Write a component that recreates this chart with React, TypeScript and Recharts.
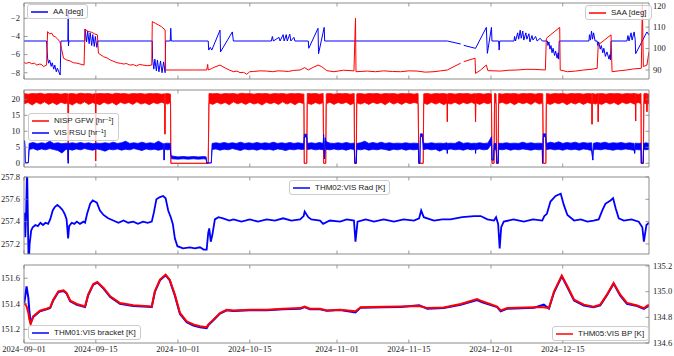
import React from 'react';
import { ComposedChart, Line, Area, XAxis, YAxis } from 'recharts';

// ---------- axes / ticks ----------
const X_DOMAIN: [number, number] = [0, 121.8]; // days since 2024-09-01
const xTickDays = [0, 14, 30, 44, 61, 75, 91, 105];
const xTickLabels = ['2024−09−01', '2024−09−15', '2024−10−01', '2024−10−15', '2024−11−01', '2024−11−15', '2024−12−01', '2024−12−15'];
const p1LeftTicks = [-8, -6, -4, -2];
const p1RightTicks = [90, 100, 110, 120];
const p2Ticks = [0, 5, 10, 15, 20];
const p3Ticks = [257.2, 257.4, 257.6, 257.8];
const p4LeftTicks = [151.2, 151.4, 151.6];
const p4RightTicks = [134.6, 134.8, 135.0, 135.2];

// ---------- panel 1: AA [deg] (left), SAA [deg] (right) ----------
const aaData: [number, number | null][] = [
  [0, -4.5], [4.4, -4.5], [4.6, -6.4], [4.8, -6.95], [5.0, -6.6], [5.3, -7.3], [5.5, -6.9], [5.8, -7.6], [6.0, -7.15], [6.3, -7.9], [6.5, -7.5], [7.05, -8.25], [7.2, -4.5],
  [8.55, -4.5], [8.62, -1.1], [8.66, -5.05], [8.75, -4.5], [11.85, -4.5], [11.9, -3.2], [12.2, -4.6], [12.4, -3.4], [12.7, -4.8], [12.9, -3.6], [13.2, -5.0], [13.4, -3.8], [13.7, -5.1], [13.9, -4.0], [14.2, -5.2], [14.4, -4.5],
  [25.0, -4.5], [25.05, -6.4], [25.3, -7.6], [25.5, -6.5], [25.8, -7.8], [26.0, -6.6], [26.3, -7.9], [26.6, -6.7], [26.9, -8.0], [27.2, -6.8], [27.5, -8.0], [27.6, -4.5], [28.5, -4.5], [28.6, -3.1], [28.7, -4.5],
  [35.9, -4.5], [36.0, -5.5], [36.3, -5.2], [36.6, -5.5], [38.2, -3.3], [38.3, -5.7], [40.6, -3.5], [40.8, -4.5],
  [48.2, -4.5], [48.4, -4.0], [48.6, -4.5], [49.7, -4.1], [49.9, -4.5], [50.5, -3.8], [50.7, -4.5], [51.1, -3.8], [51.3, -4.5], [51.8, -3.75], [52.0, -4.5], [52.6, -4.1], [52.8, -4.5],
  [55.4, -4.5], [55.5, -5.3], [57.3, -3.1], [57.4, -5.9], [58.5, -3.0], [58.6, -4.5],
  [82.5, -4.5], [85.1, -4.83], [85.4, null], [85.7, -4.98], [88.0, -5.31], [90.1, -3.0], [90.3, -5.86], [91.1, -3.0], [91.2, -4.5], [92.5, -4.5], [92.6, -5.5], [92.7, -4.5],
  [95.5, -4.5], [95.6, -4.0], [95.8, -4.5], [96.2, -3.6], [96.4, -4.3], [96.7, -3.3], [96.9, -4.2], [97.2, -3.4], [97.4, -4.4], [97.8, -3.6], [98.0, -4.3], [98.4, -3.7], [98.6, -4.6], [99.0, -3.9], [99.2, -4.4], [99.7, -4.0], [100.0, -4.5], [100.6, -4.2], [101.0, -4.5],
  [102.0, -4.5], [102.1, -5.0], [102.3, -4.6], [102.5, -5.4], [102.7, -5.0], [102.9, -5.8], [103.1, -5.3], [103.4, -6.1], [103.6, -5.6], [103.9, -6.4], [104.1, -5.8], [104.2, -6.5], [104.3, -4.5],
  [110.1, -4.5], [110.2, -3.8], [110.4, -4.4], [110.6, -3.4], [110.8, -4.3], [111.0, -3.6], [111.3, -4.5], [111.7, -4.5], [111.8, -5.0], [112.0, -4.6], [112.3, -5.4], [112.5, -5.0], [112.8, -5.8], [113.0, -5.3], [113.3, -6.2], [113.6, -5.7], [114.0, -6.5], [114.2, -6.0], [114.3, -6.6], [114.4, -4.5],
  [117.5, -4.5], [117.7, -3.9], [117.9, -4.5], [118.3, -3.6], [118.5, -4.4], [118.9, -3.5], [119.1, -4.3], [119.2, -5.9], [121.4, -3.5], [121.8, -3.85],
];

const saaData: [number, number | null][] = [
  [0, 93.4], [0.5, 93.1], [1.0, 93.6], [1.5, 92.9], [2.0, 93.2], [2.5, 92.3], [3.1, 92.8], [3.5, 92.4], [3.8, 91.6], [4.4, 92.3],
  [4.6, 107.9], [5.0, 106.8], [5.4, 107.2], [5.7, 105.9], [6.1, 105.5], [6.5, 104.6], [7.0, 103.2], [7.3, 100.1], [7.7, 95.5], [8.3, 94.7], [9.0, 94.2], [9.6, 93.4], [10.3, 93.2], [10.9, 92.8], [11.7, 92.3],
  [11.9, 109.0], [12.5, 108.0], [13.2, 107.6], [13.8, 106.8], [14.3, 106.4], [14.5, 97.8], [15.5, 96.2], [16.2, 95.6], [16.8, 94.7], [17.5, 94.0], [18.1, 93.4], [18.8, 93.1], [19.4, 92.8], [20.0, 93.0], [20.6, 92.3], [21.3, 92.5], [21.9, 91.9], [22.5, 92.6], [23.2, 92.3], [24.0, 92.0], [24.9, 92.3],
  [25.0, 112.6], [25.6, 111.8], [26.2, 111.0], [26.8, 110.2], [27.5, 108.7], [27.6, 90.0], [30, 90.0], [33, 90.0], [35.6, 90.0], [35.8, 92.6], [35.9, 90.0],
  [36.5, 90.6], [37.2, 91.4], [38.2, 92.3], [39.0, 91.2], [40.0, 90.0], [40.8, 89.2], [41.5, 89.5], [42.1, 88.8], [42.8, 88.9], [43.4, 88.0], [44.0, 89.2], [44.7, 89.3], [46.0, 89.6], [47.3, 89.5], [48.5, 89.2], [49.5, 89.6], [50.5, 89.5], [51.5, 89.3], [52.5, 89.8], [53.8, 90.0], [54.7, 91.1], [55.4, 90.0], [56.3, 91.2], [57.3, 92.3], [58.0, 91.6], [59.0, 89.7],
  [60.4, 89.2], [62.3, 89.9], [64.3, 89.6], [64.6, 114.1], [64.7, 89.2], [66.9, 89.5], [68.5, 89.2], [70.1, 89.6], [71.8, 89.3], [73.4, 89.2], [75.0, 89.6], [76.6, 89.5], [78.2, 89.0], [79.9, 89.2], [81.2, 89.6], [82.5, 90.0],
  [85.1, 93.2], [85.4, null], [85.7, 93.9], [87.9, 95.5], [88.0, 88.4], [89.0, 90.0], [90.1, 92.3], [90.4, 89.7], [92.9, 89.5], [94.5, 89.9], [96.1, 90.0], [97.8, 90.3], [99.4, 90.3], [101.6, 90.0],
  [101.8, 104.8], [104.4, 109.9], [104.5, 90.0], [105.9, 89.2], [107.5, 89.5], [109.1, 90.0], [110.5, 90.3], [111.7, 90.8], [111.9, 101.7], [114.4, 106.4], [114.6, 89.2], [116.2, 89.7], [117.5, 90.0], [118.8, 90.5], [120.3, 90.8], [120.5, 120.4], [120.7, 91.6], [121.4, 92.3], [121.8, 98.6],
];

// ---------- panel 2: NISP GFW / VIS RSU [hr^-1], bands [day, low, high] ----------
const gfwBand: [number, number, number][] = [
  [0, 18.6, 21.8], [0.8, 19.0, 21.6], [1.6, 18.2, 21.8], [2.4, 19.1, 21.7], [3.2, 18.5, 21.9], [4.0, 19.2, 21.6], [4.8, 18.4, 21.8], [5.6, 19.0, 21.7], [6.4, 18.3, 21.8], [7.2, 19.1, 21.6], [8.0, 18.6, 21.8], [8.55, 18.9, 21.7], [8.62, 1.0, 1.0], [8.7, 18.8, 21.7],
  [9.4, 18.2, 21.8], [10.2, 19.0, 21.6], [11.0, 18.5, 21.9], [11.8, 19.2, 21.7], [12.6, 18.4, 21.8], [13.4, 19.0, 21.6], [13.92, 18.6, 21.8], [13.97, 0.7, 0.7], [14.03, 18.7, 21.7],
  [14.8, 18.3, 21.8], [15.6, 19.1, 21.7], [16.4, 18.5, 21.8], [17.2, 19.0, 21.6], [18.0, 18.2, 21.9], [18.8, 19.1, 21.7], [19.6, 18.6, 21.8], [20.4, 19.0, 21.6], [21.2, 18.4, 21.8], [22.0, 19.2, 21.7], [22.8, 18.5, 21.8], [23.6, 18.9, 21.6], [24.4, 18.3, 21.8], [25.2, 19.0, 21.7], [26.0, 18.6, 21.8], [26.8, 19.1, 21.6],
  [27.42, 18.7, 21.7], [27.47, 9.1, 9.1], [27.52, 18.8, 21.7], [28.0, 18.5, 21.8], [28.55, 19.0, 21.6], [28.62, 0, 0], [35.9, 0, 0], [36.05, 18.8, 21.8],
  [36.8, 18.4, 21.7], [37.6, 19.1, 21.8], [38.4, 18.5, 21.6], [39.2, 19.0, 21.8], [40.0, 18.3, 21.7], [40.8, 19.2, 21.8], [41.6, 18.6, 21.6], [42.4, 19.0, 21.9], [43.2, 18.4, 21.7], [44.0, 19.1, 21.8], [44.8, 18.5, 21.6], [45.6, 18.9, 21.8], [46.4, 18.2, 21.7], [47.2, 19.1, 21.8], [48.0, 18.6, 21.6], [48.8, 19.0, 21.8], [49.6, 18.4, 21.7], [50.4, 19.2, 21.8], [51.2, 18.5, 21.6], [52.0, 19.0, 21.8], [52.8, 18.3, 21.7], [53.6, 19.1, 21.8], [54.4, 18.7, 21.6],
  [54.55, 18.9, 21.7], [54.62, 0, 0], [55.1, 0, 0], [55.2, 18.8, 21.8], [56.0, 18.4, 21.7], [56.8, 19.0, 21.8], [57.6, 18.5, 21.6], [58.3, 19.0, 21.8], [58.4, 0, 0], [58.8, 0, 0], [58.9, 18.6, 21.7],
  [59.6, 19.1, 21.8], [60.4, 18.4, 21.6], [61.2, 19.0, 21.8], [62.0, 18.6, 21.7], [62.8, 19.1, 21.8], [63.6, 18.3, 21.6], [64.35, 18.8, 21.8], [64.42, 0, 0], [64.75, 0, 0], [64.85, 18.9, 21.7],
  [65.6, 18.5, 21.8], [66.4, 19.0, 21.6], [67.2, 18.4, 21.8], [68.0, 19.1, 21.7], [68.8, 18.6, 21.8], [69.6, 19.0, 21.6], [70.4, 18.3, 21.8], [71.2, 19.2, 21.7], [72.0, 18.5, 21.8], [72.8, 19.0, 21.6], [73.6, 18.4, 21.8], [74.4, 19.1, 21.7], [75.2, 18.6, 21.8], [76.0, 19.0, 21.6], [76.8, 18.7, 21.8],
  [76.95, 0, 0], [77.8, 0, 0], [77.9, 18.8, 21.7], [78.6, 18.4, 21.8], [79.4, 19.1, 21.6], [80.2, 18.5, 21.8], [81.0, 19.0, 21.7], [81.8, 18.3, 21.8], [82.45, 18.9, 21.6], [82.5, 13.0, 13.0], [82.55, 18.8, 21.7],
  [83.2, 18.5, 21.8], [84.0, 19.1, 21.6], [84.8, 18.4, 21.8], [85.6, 19.0, 21.7], [86.4, 18.6, 21.8], [87.2, 19.1, 21.6], [87.95, 18.5, 21.8], [88.0, 13.0, 13.0], [88.05, 18.9, 21.7], [88.8, 18.4, 21.8], [89.6, 19.0, 21.6], [90.4, 18.6, 21.8],
  [91.1, 19.0, 21.7], [91.2, 0, 0], [91.6, 0, 0], [91.7, 18.8, 21.8], [92.0, 18.9, 21.7], [92.1, 0, 0], [92.4, 0, 0], [92.5, 18.7, 21.8],
  [93.2, 19.1, 21.6], [94.0, 18.5, 21.8], [94.8, 19.0, 21.7], [95.6, 18.3, 21.8], [96.4, 19.1, 21.6], [97.2, 18.6, 21.8], [98.0, 19.0, 21.7], [98.8, 18.4, 21.8], [99.6, 19.2, 21.6], [100.4, 18.5, 21.8], [101.1, 18.9, 21.7], [101.2, 0, 0], [101.7, 0, 0], [101.8, 18.8, 21.8],
  [102.6, 18.4, 21.6], [103.4, 19.0, 21.8], [104.2, 18.6, 21.7], [105.0, 19.1, 21.8], [105.8, 18.3, 21.6], [106.6, 19.0, 21.8], [107.4, 18.5, 21.7], [108.2, 19.1, 21.8], [109.0, 18.4, 21.6], [109.8, 19.0, 21.8],
  [110.65, 18.6, 21.7], [110.7, 12.2, 12.2], [110.75, 18.8, 21.8], [111.4, 18.5, 21.6], [111.85, 19.0, 21.8], [111.9, 13.0, 13.0], [111.95, 18.7, 21.7],
  [112.6, 18.4, 21.8], [113.4, 19.1, 21.6], [114.2, 18.5, 21.8], [115.0, 19.0, 21.7], [115.8, 18.3, 21.8], [116.6, 19.1, 21.6], [117.4, 18.6, 21.8], [118.2, 19.0, 21.7], [119.15, 18.4, 21.8], [119.2, 13.2, 13.2], [119.25, 18.8, 21.7],
  [119.8, 19.0, 21.6], [120.25, 18.5, 21.8], [120.3, 0, 0], [120.7, 0, 0], [120.8, 18.8, 21.7], [121.35, 18.6, 21.8], [121.4, 16.1, 16.1], [121.45, 18.9, 21.7], [121.8, 18.5, 21.6],
];

const rsuBand: [number, number, number][] = [
  [0, 6.5, 7.2], [0.15, 6.0, 6.8], [0.25, 0.2, 0.2], [0.85, 0.2, 0.2], [1.0, 4.3, 6.2], [1.8, 4.6, 6.5], [2.6, 4.1, 6.1], [3.4, 4.5, 6.4], [4.2, 4.2, 6.2], [5.0, 4.6, 6.9], [5.8, 4.3, 6.2], [6.6, 4.0, 6.4], [7.4, 3.2, 6.1], [8.2, 4.4, 6.3], [8.55, 4.2, 6.2], [8.62, 0, 0], [8.7, 4.4, 6.2],
  [9.4, 4.1, 6.4], [10.2, 4.5, 6.2], [11.0, 4.2, 6.5], [11.8, 4.6, 6.2], [12.6, 4.3, 6.4], [13.4, 4.1, 6.1], [14.2, 4.5, 6.3], [15.0, 4.2, 6.2], [15.8, 3.8, 6.4], [16.6, 4.4, 6.2], [17.4, 4.2, 6.6], [18.2, 4.5, 6.2], [19.0, 4.1, 6.4], [19.8, 4.4, 6.9], [20.6, 4.2, 6.2], [21.4, 4.6, 6.4], [22.2, 4.3, 6.2], [23.0, 4.0, 6.6], [23.8, 4.5, 6.2], [24.6, 4.2, 6.4], [25.4, 4.4, 6.2], [26.2, 4.1, 6.9], [27.0, 4.4, 6.2],
  [27.25, 4.3, 6.1], [27.3, 1.0, 1.0], [27.4, 4.4, 6.2], [28.0, 4.2, 6.3], [28.5, 4.4, 6.2], [28.6, 2.6, 2.6], [28.8, 1.4, 2.3], [30, 1.3, 2.0], [31, 1.4, 2.1], [32, 1.3, 2.0], [33, 1.4, 2.1], [34, 1.3, 2.0], [35, 1.4, 2.1], [35.5, 1.3, 2.0], [35.6, 0.1, 0.1], [36.5, 0.1, 0.1],
  [36.65, 4.3, 6.2], [37.4, 4.5, 6.4], [38.2, 4.1, 6.2], [39.0, 4.4, 6.5], [39.8, 4.2, 6.2], [40.6, 4.6, 6.4], [41.4, 4.3, 6.2], [42.2, 4.0, 6.6], [43.0, 4.5, 6.2], [43.8, 4.2, 6.4], [44.6, 4.4, 6.2], [45.4, 4.1, 6.5], [46.2, 4.5, 6.2], [47.0, 4.2, 6.4], [47.8, 4.4, 6.2], [48.6, 4.1, 6.6], [49.4, 4.5, 6.2], [50.2, 4.3, 6.4], [51.0, 4.0, 6.2], [51.8, 4.4, 6.5], [52.6, 4.2, 6.2], [53.4, 4.5, 6.4], [54.2, 4.3, 6.2],
  [54.55, 4.4, 6.3], [54.62, 8.2, 9.1], [55.1, 8.2, 9.1], [55.2, 4.3, 6.2], [56.0, 4.5, 6.4], [56.8, 4.2, 6.2], [57.6, 4.4, 6.5], [58.3, 4.2, 6.2], [58.4, 8.0, 9.0], [58.55, 1.4, 1.4], [58.7, 7.0, 8.0], [58.85, 4.4, 6.8], [59.6, 4.2, 6.3],
  [60.4, 4.5, 6.2], [61.2, 4.2, 6.4], [62.0, 4.4, 6.2], [62.8, 4.1, 6.5], [63.6, 4.5, 6.2], [64.35, 4.3, 6.3], [64.5, 0, 0], [64.75, 0, 0], [64.85, 4.4, 6.2],
  [65.6, 4.2, 6.4], [66.4, 4.5, 6.9], [67.2, 4.1, 6.2], [68.0, 4.4, 6.5], [68.8, 4.2, 6.2], [69.6, 4.5, 6.6], [70.4, 4.3, 6.2], [71.2, 4.0, 6.4], [72.0, 4.4, 6.2], [72.8, 4.2, 6.3], [73.6, 4.5, 6.2], [74.4, 4.1, 6.4], [75.2, 4.4, 6.2], [76.0, 4.2, 6.3], [76.85, 4.4, 6.2],
  [76.95, 0, 0], [77.15, 0, 0], [77.25, 8.3, 9.2], [77.65, 8.3, 9.2], [77.8, 4.3, 6.3], [78.6, 4.5, 6.2], [79.4, 4.2, 6.4], [80.2, 4.4, 6.2], [81.0, 3.8, 6.3], [81.8, 4.4, 6.2], [82.45, 4.2, 6.4], [82.5, 3.1, 3.1], [82.55, 4.3, 6.2],
  [83.2, 4.5, 6.3], [84.0, 4.2, 6.2], [84.8, 4.4, 6.8], [85.6, 4.1, 6.2], [86.4, 4.5, 6.4], [87.2, 4.2, 6.2], [87.95, 4.4, 6.3], [88.0, 3.1, 3.1], [88.05, 4.3, 6.2], [88.8, 4.5, 6.4], [89.6, 4.2, 6.2], [90.4, 4.4, 6.3],
  [91.1, 6.0, 8.3], [91.2, 1.0, 1.0], [91.5, 1.0, 1.0], [91.6, 4.3, 6.2], [92.0, 4.2, 6.2], [92.15, 0, 0], [92.4, 0, 0], [92.5, 4.4, 6.3],
  [93.2, 4.2, 6.2], [94.0, 4.5, 6.4], [94.8, 4.1, 6.2], [95.6, 4.4, 6.3], [96.4, 4.2, 6.2], [97.2, 4.5, 6.6], [98.0, 4.3, 6.2], [98.8, 4.1, 6.4], [99.6, 4.4, 6.2], [100.4, 4.2, 6.3], [101.0, 4.4, 6.2], [101.05, 0, 0], [101.2, 8.3, 9.2], [101.65, 8.3, 9.2], [101.8, 4.3, 6.2],
  [102.6, 4.5, 6.6], [103.4, 4.2, 6.3], [104.2, 4.4, 6.7], [105.0, 4.1, 6.2], [105.8, 4.5, 6.5], [106.6, 4.2, 6.3], [107.4, 4.4, 6.6], [108.2, 4.1, 6.2], [109.0, 4.5, 6.5], [109.8, 4.3, 6.3], [110.6, 4.0, 6.4], [110.85, 1.0, 1.0], [110.95, 4.2, 6.2],
  [111.6, 4.4, 6.5], [112.4, 4.2, 6.3], [113.2, 4.5, 6.6], [114.0, 4.3, 6.2], [114.8, 4.1, 6.4], [115.6, 4.4, 6.3], [116.4, 4.2, 6.5], [117.2, 4.5, 6.2], [118.0, 4.3, 6.4], [118.9, 4.1, 6.2], [119.0, 3.1, 3.1], [119.1, 4.4, 6.3],
  [119.8, 4.2, 6.2], [120.25, 4.3, 6.3], [120.3, 0, 0], [120.65, 0, 0], [120.75, 4.4, 6.2], [121.2, 4.2, 6.4], [121.8, 4.4, 6.2],
];

// ---------- panel 3: THM02:VIS Rad [K] ----------
const thm02Data: [number, number][] = [
  [0, 257.42], [0.1, 257.48], [0.25, 257.26], [0.4, 257.45], [0.6, 257.9], [0.9, 257.0], [1.1, 257.2], [1.4, 257.32], [1.7, 257.35], [2.2, 257.37], [2.7, 257.36], [3.2, 257.39], [3.7, 257.37], [4.2, 257.39], [4.7, 257.38],
  [5.1, 257.42], [5.6, 257.5], [6.0, 257.53], [6.5, 257.55], [7.0, 257.53], [7.4, 257.51], [7.7, 257.49], [8.0, 257.46], [8.3, 257.42], [8.6, 257.25], [8.8, 257.36], [9.3, 257.39], [9.8, 257.38], [10.3, 257.40], [10.9, 257.38], [11.6, 257.40], [11.9, 257.39],
  [12.3, 257.47], [12.9, 257.56], [13.4, 257.59], [13.8, 257.58], [14.2, 257.57], [14.8, 257.50], [15.5, 257.46], [16.4, 257.43], [17.4, 257.41], [18.4, 257.39], [19.4, 257.41], [20.3, 257.39], [21.3, 257.40], [22.2, 257.38], [23.2, 257.40], [24.1, 257.39], [24.9, 257.40],
  [25.3, 257.48], [25.8, 257.60], [26.5, 257.62], [27.1, 257.63], [27.6, 257.61], [28.1, 257.50], [28.6, 257.44], [29.0, 257.38], [29.4, 257.25], [29.9, 257.18], [30.5, 257.17], [31.0, 257.16], [32.3, 257.17], [33.3, 257.16], [34.3, 257.17], [35.0, 257.15], [35.6, 257.15],
  [35.9, 257.30], [36.1, 257.34], [36.4, 257.22], [36.7, 257.28], [37.2, 257.42], [37.9, 257.44], [38.8, 257.43], [40.0, 257.41], [40.8, 257.42], [42.4, 257.40], [44.0, 257.42], [45.6, 257.40], [47.3, 257.42], [48.9, 257.41], [50.5, 257.43], [52.1, 257.41], [53.8, 257.42],
  [54.5, 257.45], [54.7, 257.49], [55.4, 257.44], [56.0, 257.42], [57.7, 257.41], [58.3, 257.38], [59.6, 257.41], [61.6, 257.40], [62.9, 257.42], [64.3, 257.41], [64.6, 257.22], [65.0, 257.40], [66.6, 257.42], [68.2, 257.40], [70.1, 257.42], [72.1, 257.40], [74.0, 257.42], [76.0, 257.41],
  [77.0, 257.43], [77.4, 257.50], [77.9, 257.44], [79.9, 257.41], [81.5, 257.42], [83.1, 257.42], [85.4, 257.44], [87.7, 257.45], [89.0, 257.45], [90.3, 257.42], [91.6, 257.41], [92.0, 257.44], [92.4, 257.38], [92.7, 257.16], [93.0, 257.35], [93.5, 257.40],
  [95.4, 257.42], [97.4, 257.40], [99.2, 257.42], [101.0, 257.41], [101.4, 257.45], [101.9, 257.47], [102.6, 257.58], [103.6, 257.63], [104.6, 257.65], [105.2, 257.55], [105.9, 257.46], [107.2, 257.41], [108.5, 257.42], [109.8, 257.40], [111.0, 257.41],
  [112.0, 257.42], [112.7, 257.50], [113.3, 257.56], [114.3, 257.59], [114.8, 257.61], [115.3, 257.52], [115.9, 257.43], [116.9, 257.41], [118.4, 257.42], [119.8, 257.40], [120.5, 257.35], [120.8, 257.22], [121.3, 257.37], [121.8, 257.39],
];

// ---------- panel 4: THM01:VIS bracket [K] (left), THM05:VIS BP [K] (right) ----------
const thm01Data: [number, number][] = [
  [0, 151.393], [0.2, 151.446], [0.5, 151.537], [0.85, 151.446], [1.05, 151.341], [1.3, 151.25], [1.8, 151.297], [3.1, 151.341], [4.4, 151.357], [5.1, 151.367], [5.7, 151.427], [6.7, 151.493], [7.7, 151.501], [8.3, 151.48], [9.0, 151.42], [10.3, 151.393], [11.9, 151.375],
  [12.5, 151.467], [13.5, 151.55], [14.3, 151.566], [15.5, 151.519], [16.8, 151.454], [18.7, 151.401], [21.3, 151.383], [24.9, 151.375], [25.5, 151.493], [26.5, 151.584], [27.6, 151.624], [28.4, 151.584], [29.4, 151.464], [30.4, 151.32], [31.7, 151.255], [33.0, 151.229], [34.3, 151.216], [35.6, 151.21],
  [35.9, 151.231], [36.9, 151.271], [38.2, 151.323], [39.5, 151.349], [40.8, 151.344], [44.0, 151.349], [47.3, 151.349], [50.5, 151.357], [53.8, 151.362], [54.7, 151.375], [55.7, 151.357], [57.7, 151.357], [59.0, 151.346], [61.6, 151.352],
  [64.6, 151.333], [65.6, 151.37], [70.1, 151.373], [73.4, 151.375], [77.0, 151.388], [78.6, 151.362], [81.8, 151.367], [85.1, 151.393], [88.3, 151.43], [89.3, 151.412], [92.2, 151.375], [92.9, 151.341], [94.2, 151.362], [99.4, 151.37], [101.3, 151.393], [102.3, 151.362],
  [103.3, 151.49], [104.8, 151.616], [105.9, 151.529], [107.2, 151.425], [109.1, 151.386], [111.0, 151.373], [112.3, 151.388], [113.6, 151.467], [114.9, 151.558], [116.2, 151.464], [117.5, 151.399], [119.5, 151.383], [120.8, 151.36], [121.8, 151.386],
];

const thm05Data: [number, number][] = [
  [0, 134.912], [0.2, 134.904], [0.5, 134.886], [0.85, 134.834], [1.05, 134.782], [1.3, 134.749], [1.8, 134.808], [3.1, 134.852], [4.4, 134.867], [5.1, 134.877], [5.7, 134.938], [6.7, 135.003], [7.7, 135.011], [8.3, 134.99], [9.0, 134.93], [10.3, 134.904], [11.9, 134.884],
  [12.5, 134.977], [13.5, 135.06], [14.3, 135.076], [15.5, 135.029], [16.8, 134.964], [18.7, 134.912], [21.3, 134.894], [24.9, 134.884], [25.5, 135.003], [26.5, 135.094], [27.6, 135.133], [28.4, 135.094], [29.4, 134.977], [30.4, 134.834], [31.7, 134.769], [33.0, 134.744], [34.3, 134.731], [35.6, 134.723],
  [35.9, 134.744], [36.9, 134.782], [38.2, 134.834], [39.5, 134.859], [40.8, 134.854], [44.0, 134.859], [47.3, 134.859], [50.5, 134.867], [53.8, 134.872], [54.7, 134.884], [55.7, 134.867], [57.7, 134.867], [59.0, 134.854], [61.6, 134.859],
  [64.6, 134.847], [65.6, 134.879], [70.1, 134.882], [73.4, 134.884], [77.0, 134.889], [78.6, 134.872], [81.8, 134.877], [85.1, 134.904], [88.3, 134.943], [89.3, 134.925], [92.2, 134.884], [92.9, 134.854], [94.2, 134.872], [99.4, 134.879], [101.3, 134.879], [102.3, 134.872],
  [103.3, 135.003], [104.8, 135.125], [105.9, 135.042], [107.2, 134.938], [109.1, 134.899], [111.0, 134.882], [112.3, 134.899], [113.6, 134.977], [114.9, 135.068], [116.2, 134.977], [117.5, 134.912], [119.5, 134.892], [120.8, 134.872], [121.8, 134.899],
];

// ---------- helpers ----------
const pts = (a: [number, number | null][]) => a.map(([d, v]) => ({ d, v }));
const band = (a: [number, number, number][]) => a.map(([d, lo, hi]) => ({ d, r: [lo, hi] }));

const BLUE = '#0000ff';
const RED = '#ff0000';
const SPINE = '#808080';
const TXT = '#1a1a1a';
const TICK_FONT = '"Liberation Serif", "DejaVu Serif", serif';
const LEG_FONT = '"Liberation Sans", Arial, sans-serif';
const TL = 3.5;

type Side = 'left' | 'right' | 'top' | 'bottom';
const makeTick = (side: Side, fmt?: (v: number, i: number) => string) => (props: any) => {
  const { x, y, payload, index } = props;
  const v = payload.value;
  let x2 = x, y2 = y;
  if (side === 'left') x2 = x + TL;
  if (side === 'right') x2 = x - TL;
  if (side === 'top') y2 = y + TL;
  if (side === 'bottom') y2 = y - TL;
  let label: any = null;
  const common = { fontFamily: TICK_FONT, fontSize: 8.5, fill: TXT };
  if (fmt) {
    if (side === 'left') label = <text x={x - 4} y={y} dy="0.33em" textAnchor="end" {...common}>{fmt(v, index)}</text>;
    if (side === 'right') label = <text x={x + 4} y={y} dy="0.33em" textAnchor="start" {...common}>{fmt(v, index)}</text>;
    if (side === 'bottom') label = <text x={x} y={y + 9} textAnchor="middle" {...common}>{fmt(v, index)}</text>;
  }
  return (
    <g>
      <line x1={x} y1={y} x2={x2} y2={y2} stroke={SPINE} strokeWidth={0.8} />
      {label}
    </g>
  );
};

const minusFmt = (v: number) => (v < 0 ? '−' + Math.abs(v) : String(v));
const fix1 = (v: number) => v.toFixed(1);
const dateFmt = (_v: number, i: number) => xTickLabels[i];

const axisLine = { stroke: SPINE, strokeWidth: 0.9 };

function renderXAxes(labels: boolean) {
  return [
    <XAxis key="xb" xAxisId="b" type="number" dataKey="d" domain={X_DOMAIN} allowDataOverflow ticks={xTickDays} interval={0}
      height={labels ? 13 : 1} tickSize={0} tickMargin={0} tickLine={false} axisLine={axisLine}
      tick={makeTick('bottom', labels ? dateFmt : undefined)} />,
    <XAxis key="xt" xAxisId="t" orientation="top" type="number" dataKey="d" domain={X_DOMAIN} allowDataOverflow ticks={xTickDays} interval={0}
      height={1} tickSize={0} tickMargin={0} tickLine={false} axisLine={axisLine} tick={makeTick('top')} />,
  ];
}

function renderYAxis(id: string, side: 'left' | 'right', domain: [number, number], ticks: number[], fmt?: (v: number) => string) {
  return (
    <YAxis key={id} yAxisId={id} orientation={side} type="number" domain={domain} allowDataOverflow ticks={ticks} interval={0}
      width={side === 'left' ? 24 : 25} tickSize={0} tickMargin={0} tickLine={false} axisLine={axisLine}
      tick={makeTick(side, fmt)} />
  );
}

function LegendBox({ left, top, items, rowH = 11 }: { left: number; top: number; items: { color: string; label: any }[]; rowH?: number }) {
  return (
    <div style={{
      position: 'absolute', left, top, background: 'rgba(255,255,255,0.8)', border: '1px solid #cccccc', borderRadius: 3,
      padding: '1px 4px 1px 3px', fontFamily: LEG_FONT, fontSize: 8, color: TXT, lineHeight: `${rowH}px`, whiteSpace: 'nowrap',
    }}>
      {items.map((it, i) => (
        <div key={i} style={{ display: 'flex', alignItems: 'center', height: rowH }}>
          <svg width={17} height={4} style={{ marginRight: 5, flex: 'none', display: 'block' }}>
            <line x1={0} y1={2} x2={17} y2={2} stroke={it.color} strokeWidth={1.5} />
          </svg>
          <span>{it.label}</span>
        </div>
      ))}
    </div>
  );
}

const hrInv = (name: string) => (
  <span>{name} [hr<sup style={{ fontSize: 5.5, verticalAlign: 'top', lineHeight: '8px' }}>−1</sup>]</span>
);

export default function App() {
  const m = { top: 2, right: 0, bottom: 2, left: 0 };
  return (
    <div style={{ position: 'absolute', left: 0, top: 0, width: 674, height: 356, background: '#ffffff', overflow: 'hidden' }}>
      {/* Panel 1 */}
      <div style={{ position: 'absolute', left: 0, top: 0 }}>
        <ComposedChart width={674} height={82} margin={m}>
          {renderXAxes(false)}
          {renderYAxis('l', 'left', [-8.69, -0.31], p1LeftTicks, minusFmt)}
          {renderYAxis('r', 'right', [85.8, 121.26], p1RightTicks, (v) => String(v))}
          <Line data={pts(aaData)} xAxisId="b" yAxisId="l" dataKey="v" stroke={BLUE} strokeWidth={1} dot={false} isAnimationActive={false} connectNulls={false} />
          <Line data={pts(saaData)} xAxisId="b" yAxisId="r" dataKey="v" stroke={RED} strokeWidth={1} dot={false} isAnimationActive={false} connectNulls={false} />
        </ComposedChart>
      </div>
      {/* Panel 2 */}
      <div style={{ position: 'absolute', left: 0, top: 87 }}>
        <ComposedChart width={674} height={83} margin={m}>
          {renderXAxes(false)}
          {renderYAxis('l', 'left', [-1.16, 22.9], p2Ticks, (v) => String(v))}
          {renderYAxis('r', 'right', [-1.16, 22.9], p2Ticks)}
          <Area data={band(gfwBand)} xAxisId="b" yAxisId="l" dataKey="r" type="linear" stroke={RED} strokeWidth={0.8} fill={RED} fillOpacity={1} dot={false} activeDot={false} isAnimationActive={false} />
          <Area data={band(rsuBand)} xAxisId="b" yAxisId="l" dataKey="r" type="linear" stroke={BLUE} strokeWidth={0.8} fill={BLUE} fillOpacity={1} dot={false} activeDot={false} isAnimationActive={false} />
        </ComposedChart>
      </div>
      {/* Panel 3 */}
      <div style={{ position: 'absolute', left: 0, top: 168 }}>
        <ComposedChart width={674} height={89} margin={{ top: 8, right: 0, bottom: 2, left: 0 }}>
          {renderXAxes(false)}
          {renderYAxis('l', 'left', [257.11, 257.8], p3Ticks, fix1)}
          {renderYAxis('r', 'right', [257.11, 257.8], p3Ticks)}
          <Line data={pts(thm02Data)} xAxisId="b" yAxisId="l" dataKey="v" stroke={BLUE} strokeWidth={1.8} dot={false} isAnimationActive={false} />
        </ComposedChart>
      </div>
      {/* Panel 4 */}
      <div style={{ position: 'absolute', left: 0, top: 258 }}>
        <ComposedChart width={674} height={98} margin={{ top: 6, right: 0, bottom: 0, left: 0 }}>
          {renderXAxes(true)}
          {renderYAxis('l', 'left', [151.093, 151.704], p4LeftTicks, fix1)}
          {renderYAxis('r', 'right', [134.6, 135.208], p4RightTicks, fix1)}
          <Line data={pts(thm01Data)} xAxisId="b" yAxisId="l" dataKey="v" stroke={BLUE} strokeWidth={2} dot={false} isAnimationActive={false} />
          <Line data={pts(thm05Data)} xAxisId="b" yAxisId="r" dataKey="v" stroke={RED} strokeWidth={2} dot={false} isAnimationActive={false} />
        </ComposedChart>
      </div>

      <LegendBox left={27} top={4} items={[{ color: BLUE, label: 'AA [deg]' }]} />
      <LegendBox left={585} top={5} items={[{ color: RED, label: 'SAA [deg]' }]} />
      <LegendBox left={28} top={113} rowH={12} items={[{ color: RED, label: hrInv('NISP GFW') }, { color: BLUE, label: hrInv('VIS RSU') }]} />
      <LegendBox left={289} top={180} items={[{ color: BLUE, label: 'THM02:VIS Rad [K]' }]} />
      <LegendBox left={28} top={325} items={[{ color: BLUE, label: 'THM01:VIS bracket [K]' }]} />
      <LegendBox left={552} top={326} items={[{ color: RED, label: 'THM05:VIS BP [K]' }]} />
    </div>
  );
}
